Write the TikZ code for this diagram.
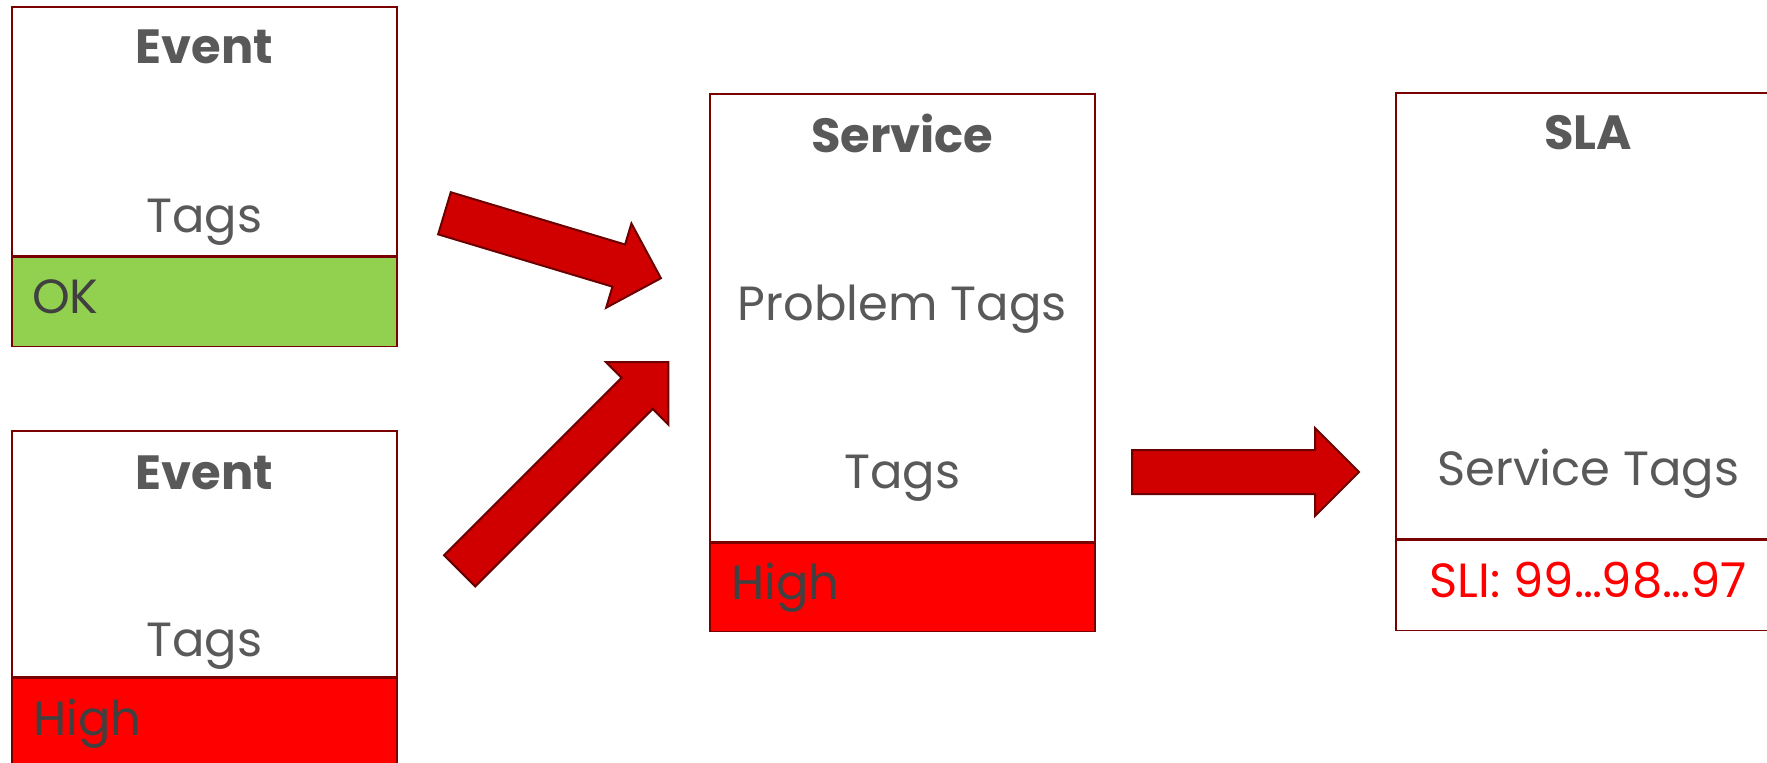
\documentclass[tikz,border=0pt]{standalone}
\usepackage{fontspec}
\setmainfont{Poppins}
\usetikzlibrary{positioning,shapes.arrows}
\definecolor{txtgray}{HTML}{595959}
\definecolor{darkgray}{HTML}{404040}
\definecolor{boxred}{HTML}{7A0000}
\definecolor{arrfill}{HTML}{D00000}
\definecolor{arrline}{HTML}{6A0000}
\definecolor{okgreen}{HTML}{92D050}
\definecolor{hired}{HTML}{FF0000}
\begin{document}
\begin{tikzpicture}[x=1pt,y=-1pt,
  box/.style={draw=boxred,line width=1.5pt,fill=white,minimum width=385pt,inner sep=0pt,anchor=north west},
  strip/.style={draw=boxred,line width=1.5pt,minimum width=385pt,inner sep=0pt},
  txt/.style={inner sep=0pt,anchor=base,text=txtgray,font=\fontsize{48}{58}\selectfont},
  head/.style={txt,font=\fontsize{48}{58}\selectfont\bfseries},
  lvl/.style={txt,anchor=base west,text=darkgray},
  fat/.style={single arrow,draw=arrline,line width=2pt,fill=arrfill,inner sep=21pt,
    minimum width=86pt,single arrow head extend=22pt,single arrow tip angle=90,anchor=tail}]
\useasboundingbox (0,0) rectangle (1767,763);
\node[box,minimum height=249pt] (ev1) at (11,6) {};
\node[strip,fill=okgreen,minimum height=89pt,below=0pt of ev1] (ev1s) {};
\node[box,minimum height=246pt] (ev2) at (11,430) {};
\node[strip,fill=hired,minimum height=100pt,below=0pt of ev2] (ev2s) {};
\node[box,minimum height=448pt] (svc) at (709,93) {};
\node[strip,fill=hired,minimum height=88pt,below=0pt of svc] (svcs) {};
\node[box,minimum height=446pt] (sla) at (1395,92) {};
\node[strip,fill=white,minimum height=90pt,below=0pt of sla] (slas) {};
\node[head] (ev1h) at (ev1.center |- 0,63) {Event};
\node[txt] (ev1g) at (ev1.center |- 0,232) {Tags};
\node[lvl] (ev1k) at (32,313) {OK};
\node[head] (ev2h) at (ev2.center |- 0,489) {Event};
\node[txt] (ev2g) at (ev2.center |- 0,656) {Tags};
\node[lvl] (ev2k) at (33,735) {High};
\node[head] (svch) at (svc.center |- 0,152) {Service};
\node[txt] (svcp) at (svc.center |- 0,320) {Problem Tags};
\node[txt] (svcg) at (svc.center |- 0,488) {Tags};
\node[lvl] (svck) at (731,599) {High};
\node[head] (slah) at (sla.center |- 0,149) {SLA};
\node[txt] (slag) at (sla.center |- 0,485) {Service Tags};
\node[txt,text=hired] (slak) at (sla.center |- 0,597) {SLI: 99…98…97};
\node[fat,rotate=-16.7,minimum height=226pt] (arr1) at (443.5,213) {};
\node[fat,rotate=45,minimum height=295pt] (arr2) at (459,571.5) {};
\node[fat,minimum height=227pt] (arr3) at (1131,472) {};
\end{tikzpicture}
\end{document}
